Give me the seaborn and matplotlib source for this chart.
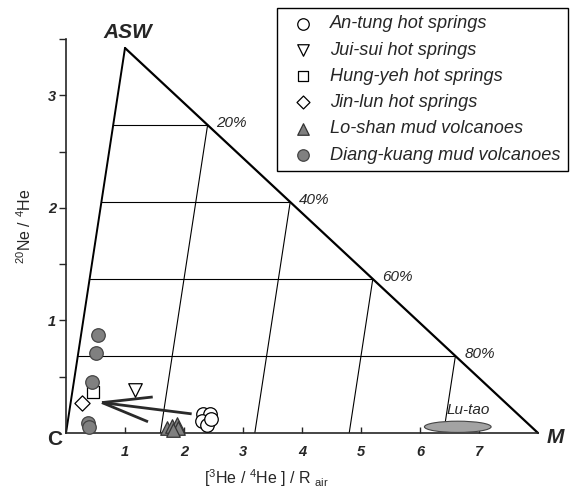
import matplotlib
matplotlib.use("Agg")
import matplotlib.pyplot as plt
from matplotlib.patches import Ellipse
from matplotlib.font_manager import FontProperties
import seaborn as sns
import pandas as pd

# ---------------- data ----------------
an_tung_x = [2.32, 2.44, 2.31, 2.39, 2.46]
an_tung_y = [0.17, 0.17, 0.11, 0.07, 0.12]
jui_sui_x = [1.17]
jui_sui_y = [0.38]
hung_yeh_x = [0.46]
hung_yeh_y = [0.36]
jin_lun_x = [0.27]
jin_lun_y = [0.27]
lo_shan_x = [1.71, 1.80, 1.88, 1.90, 1.81]
lo_shan_y = [0.04, 0.06, 0.08, 0.04, 0.03]
diang_x = [0.54, 0.51, 0.44, 0.37, 0.39]
diang_y = [0.87, 0.71, 0.45, 0.09, 0.05]

series_names = ["An-tung hot springs", "Jui-sui hot springs", "Hung-yeh hot springs",
                "Jin-lun hot springs", "Lo-shan mud volcanoes", "Diang-kuang mud volcanoes"]

# end members
asw_point = (1.0, 3.42)
c_point = (0.0, 0.0)
m_point = (8.0, 0.0)
mix_fractions = [0.2, 0.4, 0.6, 0.8]
mix_labels = ["20%", "40%", "60%", "80%"]

# Lu-tao field
lutao_center = (6.64, 0.055)
lutao_width = 1.13
lutao_height = 0.10

# arrows (migration trend)
arrow_apex = (0.61, 0.27)
arrow_ends_x = [1.47, 1.39, 2.13]
arrow_ends_y = [0.32, 0.10, 0.17]

x_ticks = [1, 2, 3, 4, 5, 6, 7]
y_ticks = [0.5, 1, 1.5, 2, 2.5, 3, 3.5]
y_ticklabels = ["", "1", "", "2", "", "3", ""]

# ---------------- style ----------------
sns.set_style("ticks")
plt.rcParams["font.family"] = ["Liberation Sans", "DejaVu Sans"]
plt.rcParams["mathtext.fontset"] = "custom"
plt.rcParams["mathtext.rm"] = "Liberation Sans"

W, H = 575, 497
fig = plt.figure(figsize=(W / 100, H / 100), dpi=100)
x0px, x8px, y0px, ytop = 66, 538, 433, 39
ax = fig.add_axes([x0px / W, (H - y0px) / H, (x8px - x0px) / W, (y0px - ytop) / H])
ax.set_xlim(0, 8)
ax.set_ylim(0, 3.5)

# ------------- mixing triangle -------------
ax.plot([c_point[0], asw_point[0]], [c_point[1], asw_point[1]], color="black", lw=1.4, clip_on=False)
ax.plot([asw_point[0], m_point[0]], [asw_point[1], m_point[1]], color="black", lw=1.6, clip_on=False)
ax_, ay_ = asw_point
for f, lab in zip(mix_fractions, mix_labels):
    hx = ax_ + f * (m_point[0] - ax_)
    hy = (1 - f) * ay_
    lx = hy / ay_ * ax_
    ax.plot([lx, hx], [hy, hy], color="black", lw=0.8)
    ybot = 0.0
    if f == mix_fractions[-1]:
        ybot = lutao_center[1] + lutao_height / 2
    bx2 = hx - (hy - ybot) / ay_ * ax_
    ax.plot([hx, bx2], [hy, ybot], color="black", lw=0.8)
    ax.text(hx + 0.15, hy + 0.02, lab, fontsize=11, style="italic", ha="left", va="center")

# Lu-tao ellipse
ax.add_patch(Ellipse(lutao_center, lutao_width, lutao_height, facecolor="#a3a3a3",
                     edgecolor="#444444", lw=0.8, zorder=3, clip_on=False))
ax.text(6.45, 0.2, "Lu-tao", fontsize=11, style="italic", ha="left", va="center")

# arrows
for ex, ey in zip(arrow_ends_x, arrow_ends_y):
    ax.plot([arrow_apex[0], ex], [arrow_apex[1], ey], color="#2a2a2a", lw=2.0, solid_capstyle="butt")

# ------------- data points -------------
gray = "#808080"
specs = [
    (an_tung_x, an_tung_y, "o", "white", "black"),
    (jui_sui_x, jui_sui_y, "v", "white", "black"),
    (hung_yeh_x, hung_yeh_y, "s", "white", "black"),
    (jin_lun_x, jin_lun_y, "D", "white", "black"),
    (lo_shan_x, lo_shan_y, "^", gray, "#333333"),
    (diang_x, diang_y, "o", gray, "#444444"),
]
sizes = [95, 95, 70, 60, 95, 95]
for (xs, ys, mk, fc, ec), name, s in zip(specs, series_names, sizes):
    df = pd.DataFrame({"x": xs, "y": ys})
    sns.scatterplot(data=df, x="x", y="y", ax=ax, marker=mk, s=s, color=fc,
                    edgecolor=ec, linewidth=0.9, label=name, zorder=4, clip_on=False)

# ------------- axes styling -------------
sns.despine(ax=ax)
for sp in ["left", "bottom"]:
    ax.spines[sp].set_linewidth(1.2)
ax.set_xlabel("")
ax.set_ylabel("")
ax.set_xticks(x_ticks)
ax.set_xticklabels([str(t) for t in x_ticks])
ax.set_yticks(y_ticks)
ax.set_yticklabels(y_ticklabels)
ax.tick_params(axis="x", direction="in", length=4, width=1.0, pad=9)
ax.tick_params(axis="y", direction="out", length=5, width=1.0, pad=2)
for lab in ax.get_xticklabels() + ax.get_yticklabels():
    lab.set_fontstyle("italic")
    lab.set_fontweight("bold")
    lab.set_fontsize(10.5)

# corner labels
ax.text(1.05, 3.56, "ASW", fontsize=15, fontweight="bold", style="italic", ha="center", va="center", clip_on=False)
ax.text(-0.2, -0.06, "C", fontsize=15, fontweight="bold", ha="center", va="center", clip_on=False)
ax.text(8.3, -0.04, "M", fontsize=15, fontweight="bold", style="italic", ha="center", va="center", clip_on=False)

# axis titles
fig.text(25 / W, 1 - 226 / H, r"$^{20}$Ne / $^{4}$He", rotation=90, fontsize=11.5, ha="center", va="center")
fig.text(267 / W, 1 - 478 / H, r"[$^{3}$He / $^{4}$He ] / R $_{\rm air}$", fontsize=11.5, ha="center", va="center")

# legend
leg = ax.legend(loc="upper right", bbox_to_anchor=(568 / W, 1 - 8 / H), bbox_transform=fig.transFigure,
                borderaxespad=0, frameon=True, fancybox=False, edgecolor="black", framealpha=1,
                prop=FontProperties(family="Liberation Sans", style="italic", size=13.1),
                handletextpad=0.4, labelspacing=0.51, borderpad=0.4, handlelength=2.15,
                markerscale=0.85)
leg.get_frame().set_linewidth(1.0)

fig.savefig("out.png", dpi=100)
